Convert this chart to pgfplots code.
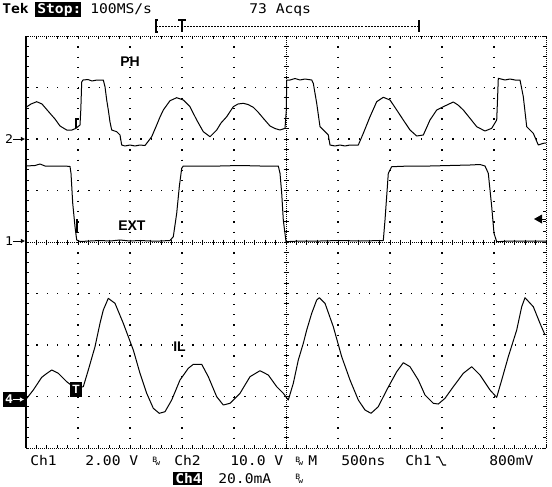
\documentclass[border=0pt]{standalone}
\usepackage{fontspec}
\usepackage{pgfplots}
\pgfplotsset{compat=1.18}
\usetikzlibrary{arrows.meta}
\newfontfamily\tekfont[FakeStretch=1.1]{DejaVu Sans Mono}
\newfontfamily\labf{Liberation Sans}
\tikzset{
  trace/.style={black, line width=0.75pt, line join=round},
  gh/.style={black, line width=0.9pt, dash pattern=on 0.9pt off 6.9pt},
  gv/.style={black, line width=0.9pt, dash pattern=on 0.9pt off 6.825pt},
  dd/.style={black, line width=0.7pt, dash pattern=on 0.75pt off 0.75pt},
  tk/.style={black, line width=0.7pt},
  sc/.style={font=\tekfont\fontsize{10}{12}\selectfont, inner sep=0pt, anchor=base west},
  lb/.style={font=\labf\bfseries\fontsize{10.5}{12}\selectfont, inner sep=0pt, anchor=base west},
}
\begin{document}
\begin{tikzpicture}
\useasboundingbox[fill=white] (0,0) rectangle (414pt,364.5pt);
\begin{axis}[
  at={(19.5pt,28.5pt)}, anchor=south west,
  scale only axis, width=390pt, height=309pt,
  xmin=26, xmax=546, ymin=36, ymax=448, y dir=reverse,
  hide axis, clip=false]
% ---------- graticule ----------
\pgfplotsinvokeforeach{1,2,3,4,6,7,8,9}{
  \draw[gv] (axis cs:{26+52*#1},36) -- (axis cs:{26+52*#1},448);
}
\pgfplotsinvokeforeach{1,2,3,5,6,7}{
  \draw[gh] (axis cs:26,{36+51.5*#1}) -- (axis cs:546,{36+51.5*#1});
}
\draw[dd] (axis cs:26,242) -- (axis cs:546,242);
\draw[dd] (axis cs:286,36) -- (axis cs:286,448);
\draw[dd] (axis cs:26,36) -- (axis cs:546,36);
\draw[dd] (axis cs:26,448) -- (axis cs:546,448);
\draw[dd] (axis cs:546,36) -- (axis cs:546,448);
\draw[black, line width=1.1pt] (axis cs:26,36) -- (axis cs:26,448);
\pgfplotsinvokeforeach{0,...,50}{
  \draw[tk] (axis cs:{26+10.4*#1},36) -- (axis cs:{26+10.4*#1},39);
  \draw[tk] (axis cs:{26+10.4*#1},445) -- (axis cs:{26+10.4*#1},448);
  \draw[tk] (axis cs:{26+10.4*#1},239.5) -- (axis cs:{26+10.4*#1},244.5);
}
\pgfplotsinvokeforeach{0,...,40}{
  \draw[tk] (axis cs:26,{36+10.3*#1}) -- (axis cs:29,{36+10.3*#1});
  \draw[tk] (axis cs:543,{36+10.3*#1}) -- (axis cs:546,{36+10.3*#1});
  \draw[tk] (axis cs:283.5,{36+10.3*#1}) -- (axis cs:288.5,{36+10.3*#1});
}
% ---------- PH (Ch2) ----------
\addplot[trace] coordinates {
(26,107.3) (31,104) (36.7,101.7) (42,104) (50,113.3) (55,119) (60,126) (66.7,130) (72,130) (76,128.3) (80,125) (80.8,110) (81.7,82) (83,80) (88,79.5) (92,81) (97,80) (103.3,80) (105,86.7) (106.7,100) (108.3,110) (110,122) (111.7,130) (116.7,131.7) (120,135) (121.7,145) (125,146) (130,145) (135,146) (140,145) (145,145.5) (146.7,143.3) (151.7,136.7) (156.7,125) (160,117) (163.3,110) (170,100.7) (176.7,97.7) (183.3,100) (190,106.7) (196.7,120) (203.3,131.7) (210,136.7) (216.7,130) (221,123) (226.7,116.7) (233.3,106.7) (238,104) (243.3,103.3) (248,104.5) (253.3,107.3) (258,112) (263.3,118.3) (270,126) (275,128.5) (280,130) (285,128.3) (286.3,110) (286.7,80) (290,80) (295,78.5) (300,80) (305,79) (311.7,80) (313.3,83.3) (316.7,103.3) (320,126.7) (325,131.7) (328.3,135) (330,145) (335,146) (340,145) (345,146) (350,145) (358.3,145) (363.3,133.3) (370,116.7) (376.7,101.7) (383.3,97.3) (390,100) (396.7,110) (403.3,120) (410,130) (416.7,136) (423.3,135) (430,120) (436.7,110) (443.3,106.7) (453.3,102) (458,105) (463.3,110) (470,118.3) (476.7,126.7) (485,131) (491.7,128.3) (496.7,120) (497.5,100) (498.3,78.3) (505,80) (510,79) (515,80) (520,80) (523.3,96.7) (526.7,126.7) (533.3,133.3) (538.3,145) (543.3,143.3) (546,143)
};
% ---------- EXT (Ch1) ----------
\addplot[trace] coordinates {
(26,166) (35,165.5) (40,164) (45,166) (55,166) (65,166) (70,166.5) (71,173.3) (72.7,203) (75,226.7) (76.7,240) (80,241.5) (90,241) (100,240.5) (110,241) (120,240) (130,241) (140,240.5) (150,241) (160,241) (170,240.5) (173.3,236.7) (176.7,213.3) (179.3,186.7) (181.7,168.3) (183.3,166) (200,166) (220,166) (240,165.5) (260,166) (278.3,166) (280,173.3) (281.7,193.3) (283.3,220) (286,241.7) (300,241) (320,241) (340,240.5) (360,241) (383.3,240.5) (385,220) (388.3,173.3) (391.7,166.7) (410,166) (430,166) (450,165.5) (470,165) (480,164.5) (485,166) (488.3,173.3) (491.7,206.7) (494,233.3) (496.7,241.7) (510,241) (530,241) (546,241)
};
% ---------- IL (Ch4) ----------
\addplot[trace] coordinates {
(26,399.3) (33.3,390) (41.7,377.3) (46,374) (51.7,370) (58.3,373.3) (66.7,381.7) (73.3,386.7) (80,387) (83.3,386.7) (88.3,370) (95,346.7) (100,323.3) (103.3,310) (108.3,298.3) (115,303.3) (123.3,323.3) (133.3,350) (140,373.3) (146.7,393.3) (153.3,408.3) (159.3,413.3) (165,411.7) (171.7,400) (180,380) (188.3,368.3) (193.3,364.3) (201.7,364.3) (208.3,376.7) (216.7,396.7) (223.3,405) (230,403.3) (240,393.3) (250,376.7) (260,370.7) (268.3,375) (276.7,386.7) (283.3,393.3) (288.3,400) (293.3,383.3) (298.3,360) (303.3,343.3) (306.7,330) (311.7,313.3) (316.7,300) (319.3,297.7) (325,303.3) (333.3,326.7) (341.7,356.7) (350,380) (358.3,400) (365,410) (371,413.3) (378.3,406.7) (386.7,390) (396.7,371.7) (403.3,362.7) (410,366.7) (418.3,380) (425,395) (433.3,403.3) (438.3,404) (445,398.3) (453.3,386.7) (463.3,373.3) (471.7,366.7) (480,375) (490,390) (496.7,397.3) (501.7,380) (508.3,356.7) (516.7,330) (521.7,306.7) (525,297.7) (533.3,306.7) (540,323.3) (545,335)
};
% ---------- trace labels ----------
\node[lb] at (axis cs:120,66.7) {PH};
\node[lb] at (axis cs:118,230) {EXT};
\node[lb] at (axis cs:173,351) {IL};
% trigger marks on traces
\draw[black, line width=1.4pt] (axis cs:76,118) -- (axis cs:76,128);
\draw[black, line width=1.4pt] (axis cs:77,219) -- (axis cs:77,233);
\fill[black] (axis cs:70,382) rectangle (axis cs:82,397);
\node[font=\labf\bfseries\fontsize{9}{9}\selectfont, text=white, inner sep=0pt] at (axis cs:76,389.5) {T};
% ---------- channel markers ----------
\node[font=\tekfont\fontsize{9}{9}\selectfont, inner sep=0pt] at (axis cs:9,139) {2};
\draw[black, line width=0.6pt, -{Latex[length=3pt,width=3.5pt]}] (axis cs:13,139) -- (axis cs:25,139);
\node[font=\tekfont\fontsize{9}{9}\selectfont, inner sep=0pt] at (axis cs:9,241) {1};
\draw[black, line width=0.6pt, -{Latex[length=3pt,width=3.5pt]}] (axis cs:13,241) -- (axis cs:25,241);
\fill[black] (axis cs:3,392) rectangle (axis cs:25,407);
\node[font=\tekfont\bfseries\fontsize{9}{9}\selectfont, text=white, inner sep=0pt] at (axis cs:9,399.5) {4};
\draw[white, line width=0.8pt, -{Latex[length=3pt,width=3.5pt]}] (axis cs:13,399.5) -- (axis cs:24,399.5);
% trigger level marker on right
\fill[black] (axis cs:534,219) -- (axis cs:542,214.5) -- (axis cs:542,223.5) -- cycle;
\draw[tk] (axis cs:542,219) -- (axis cs:546,219);
% ---------- header ----------
\node[sc, font=\tekfont\bfseries\fontsize{10}{12}\selectfont] at (axis cs:2,13.5) {Tek};
\fill[black] (axis cs:35,2) rectangle (axis cs:81,17);
\node[sc, text=white, font=\tekfont\bfseries\fontsize{10}{12}\selectfont] at (axis cs:37,13.5) {Stop:};
\node[sc] at (axis cs:90,13.5) {100MS/s};
\node[sc] at (axis cs:249,13.5) {73 Acqs};
\draw[black, line width=0.6pt, dash pattern=on 1.5pt off 0.8pt] (axis cs:156,26) -- (axis cs:419,26);
\draw[black, line width=0.8pt] (axis cs:156,20) -- (axis cs:156,32);
\draw[black, line width=0.8pt] (axis cs:155,20) -- (axis cs:158,20);
\draw[black, line width=0.8pt] (axis cs:155,32) -- (axis cs:158,32);
\draw[black, line width=0.8pt] (axis cs:178,20) -- (axis cs:186,20);
\draw[black, line width=0.8pt] (axis cs:182,20) -- (axis cs:182,32);
\draw[black, line width=0.8pt] (axis cs:419,20) -- (axis cs:419,32);
% ---------- footer ----------
\node[sc] at (axis cs:30,465.5) {Ch1};
\node[sc] at (axis cs:85,465.5) {2.00 V};
\node[sc, font=\tekfont\fontsize{5.5}{6}\selectfont] at (axis cs:152,462) {B};
\node[sc, font=\tekfont\fontsize{5.5}{6}\selectfont] at (axis cs:155,465.5) {w};
\node[sc] at (axis cs:174,465.5) {Ch2};
\node[sc] at (axis cs:230,465.5) {10.0 V};
\node[sc, font=\tekfont\fontsize{5.5}{6}\selectfont] at (axis cs:295,462) {B};
\node[sc, font=\tekfont\fontsize{5.5}{6}\selectfont] at (axis cs:298,465.5) {w};
\node[sc] at (axis cs:308,465.5) {M};
\node[sc] at (axis cs:341,465.5) {500ns};
\node[sc] at (axis cs:405,465.5) {Ch1};
\draw[black, line width=0.8pt] (axis cs:436,457) -- (axis cs:439,457) -- (axis cs:443,465) -- (axis cs:446,465);
\node[sc] at (axis cs:489,465.5) {800mV};
\fill[black] (axis cs:173,471.5) rectangle (axis cs:202,485);
\node[sc, text=white, font=\tekfont\bfseries\fontsize{10}{12}\selectfont] at (axis cs:175,483) {Ch4};
\node[sc] at (axis cs:218,483) {20.0mA};
\node[sc, font=\tekfont\fontsize{5.5}{6}\selectfont] at (axis cs:295,479.5) {B};
\node[sc, font=\tekfont\fontsize{5.5}{6}\selectfont] at (axis cs:298,483) {w};
\end{axis}
\end{tikzpicture}
\end{document}
